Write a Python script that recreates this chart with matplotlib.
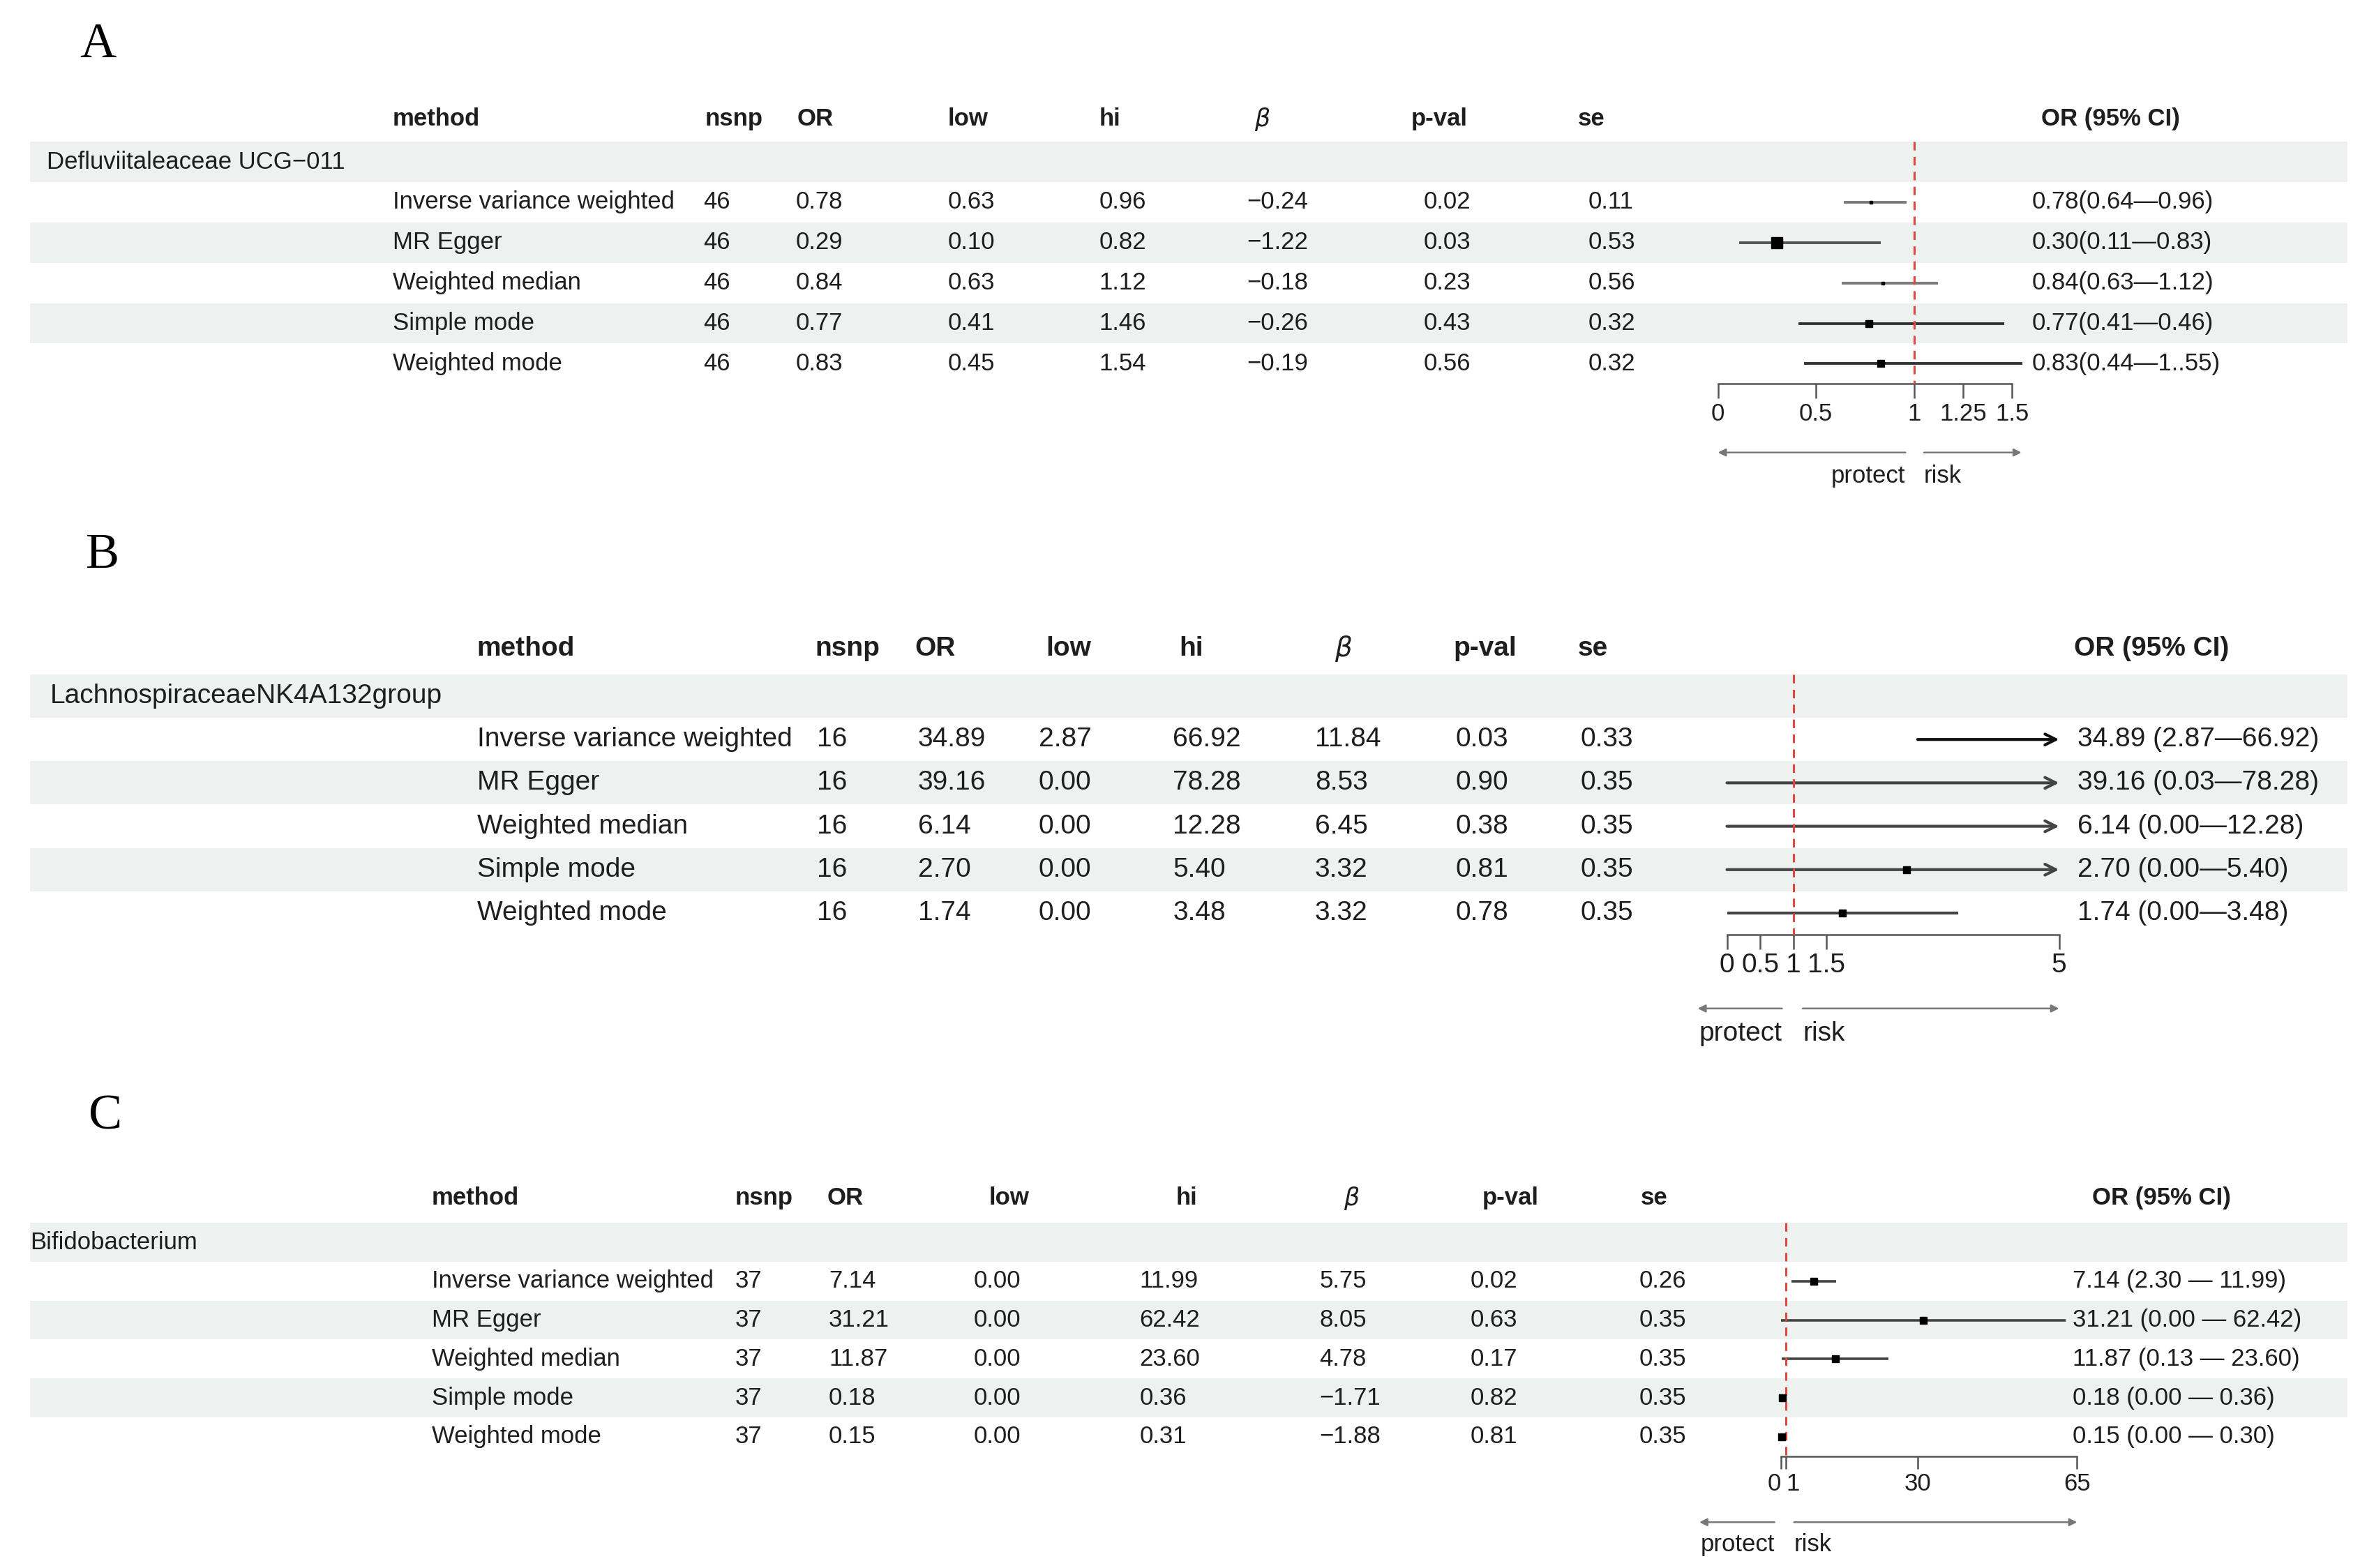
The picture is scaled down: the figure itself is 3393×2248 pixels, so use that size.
import numpy as np
import matplotlib.pyplot as plt

plt.rcParams['font.family'] = ['Liberation Sans', 'DejaVu Sans']

# ---------------- data ----------------
methods = ['Inverse variance weighted', 'MR Egger', 'Weighted median',
           'Simple mode', 'Weighted mode']
columns = ['method', 'nsnp', 'OR', 'low', 'hi', r'$\beta$', 'p-val', 'se']

# panel A
group_a = 'Defluviitaleaceae UCG\u2212011'
nsnp_a = [46, 46, 46, 46, 46]
or_a = [0.78, 0.29, 0.84, 0.77, 0.83]
low_a = [0.63, 0.10, 0.63, 0.41, 0.45]
hi_a = [0.96, 0.82, 1.12, 1.46, 1.54]
beta_a = [-0.24, -1.22, -0.18, -0.26, -0.19]
pval_a = [0.02, 0.03, 0.23, 0.43, 0.56]
se_a = [0.11, 0.53, 0.56, 0.32, 0.32]
ci_text_a = ['0.78(0.64\u20140.96)', '0.30(0.11\u20140.83)', '0.84(0.63\u20141.12)',
             '0.77(0.41\u20140.46)', '0.83(0.44\u20141..55)']
est_a = [0.78, 0.30, 0.84, 0.77, 0.83]
ci_lo_a = [0.64, 0.11, 0.63, 0.41, 0.44]
ci_hi_a = [0.96, 0.83, 1.12, 1.46, 1.55]
ticks_a = [0, 0.5, 1, 1.25, 1.5]
tick_labels_a = ['0', '0.5', '1', '1.25', '1.5']

# panel B
group_b = 'LachnospiraceaeNK4A132group'
nsnp_b = [16, 16, 16, 16, 16]
or_b = [34.89, 39.16, 6.14, 2.70, 1.74]
low_b = [2.87, 0.00, 0.00, 0.00, 0.00]
hi_b = [66.92, 78.28, 12.28, 5.40, 3.48]
beta_b = [11.84, 8.53, 6.45, 3.32, 3.32]
pval_b = [0.03, 0.90, 0.38, 0.81, 0.78]
se_b = [0.33, 0.35, 0.35, 0.35, 0.35]
ci_text_b = ['34.89 (2.87\u201466.92)', '39.16 (0.03\u201478.28)', '6.14 (0.00\u201412.28)',
             '2.70 (0.00\u20145.40)', '1.74 (0.00\u20143.48)']
est_b = [34.89, 39.16, 6.14, 2.70, 1.74]
ci_lo_b = [2.87, 0.00, 0.00, 0.00, 0.00]
ci_hi_b = [66.92, 78.28, 12.28, 5.40, 3.48]
ticks_b = [0, 0.5, 1, 1.5, 5]
tick_labels_b = ['0', '0.5', '1', '1.5', '5']

# panel C
group_c = 'Bifidobacterium'
nsnp_c = [37, 37, 37, 37, 37]
or_c = [7.14, 31.21, 11.87, 0.18, 0.15]
low_c = [0.00, 0.00, 0.00, 0.00, 0.00]
hi_c = [11.99, 62.42, 23.60, 0.36, 0.31]
beta_c = [5.75, 8.05, 4.78, -1.71, -1.88]
pval_c = [0.02, 0.63, 0.17, 0.82, 0.81]
se_c = [0.26, 0.35, 0.35, 0.35, 0.35]
ci_text_c = ['7.14 (2.30 \u2014 11.99)', '31.21 (0.00 \u2014 62.42)', '11.87 (0.13 \u2014 23.60)',
             '0.18 (0.00 \u2014 0.36)', '0.15 (0.00 \u2014 0.30)']
est_c = [7.14, 31.21, 11.87, 0.18, 0.15]
ci_lo_c = [2.30, 0.00, 0.13, 0.00, 0.00]
ci_hi_c = [11.99, 62.42, 23.60, 0.36, 0.30]
ticks_c = [0, 1, 30, 65]
tick_labels_c = ['0', '1', '30', '65']

# ---------------- layout (reference units, 1568 x 1039) ----------------
W, H = 1568.0, 1039.0
BAND = '#edf1f0'
RED = '#e0473f'
TXT = '#1e1e1e'

layout_a = dict(letter='A', letter_xy=(65, 30), span=(60, 330), row0=134, dy=26.75,
                head_r=-2.06, fs=25, group_x=31,
                head_x=[260, 467, 528, 628, 728, 831, 935, 1045], ci_head_x=1352,
                val_x=[260, 466, 527, 628, 728, 826, 943, 1052], ci_x=1346,
                px0=1138, ppu=130.0, clip=1.6, ms=[3.5, 11, 3.5, 7, 7],
                lc=['#7a7a7a', '#555555', '#7a7a7a', '#333333', '#333333'], lw=2.8,
                arrows=(0.956, 0.0, 1.05, 1.547), tick_ha=None, tick_len=15)
layout_b = dict(letter='B', letter_xy=(68, 368), span=(410, 700), row0=490, dy=28.75,
                head_r=-2.09, fs=28, group_x=33,
                head_x=[316, 540, 606, 693, 781, 884, 963, 1045], ci_head_x=1374,
                val_x=[316, 541, 608, 688, 777, 871, 964, 1047], ci_x=1376,
                px0=1144, ppu=44.0, clip=5.0, ms=[7, 7, 7, 7, 7],
                lc=['#111111', '#444444', '#444444', '#444444', '#444444'], lw=3.0,
                arrows=(0.83, -0.44, 1.14, 5.0), tick_ha=None, tick_len=15)
layout_c = dict(letter='C', letter_xy=(70, 740), span=(775, 1035), row0=849, dy=25.75,
                head_r=-2.14, fs=25, group_x=20,
                head_x=[286, 487, 548, 655, 779, 890, 982, 1087], ci_head_x=1386,
                val_x=[286, 487, 549, 645, 755, 874, 974, 1086], ci_x=1373,
                px0=1180, ppu=3.015, clip=65.0, ms=[6.5, 6.5, 6.5, 6.5, 6.5],
                lc=['#444444'] * 5, lw=2.6,
                arrows=(-1.5, -18.0, 2.8, 65.0), tick_ha=['right', 'left', 'center', 'center'],
                tick_len=13)


def fmt(v):
    return f'{v:.2f}'.replace('-', '\u2212')


def draw_panel(fig, p, group, cols, ci_text, est, lo, hi, ticks, tick_labels):
    top, bot = p['span']
    rect = [0, 1 - bot / H, 1, (bot - top) / H]
    r_bot = (bot - p['row0']) / p['dy']
    r_top = (top - p['row0']) / p['dy']
    fs = p['fs']

    fig.text(p['letter_xy'][0] / W, 1 - p['letter_xy'][1] / H, p['letter'],
             family='Liberation Serif', fontsize=52, ha='center', va='center')

    # table part
    ax = fig.add_axes(rect)
    ax.set_xlim(0, W)
    ax.set_ylim(r_bot, r_top)
    ax.axis('off')
    ax.barh([-1, 1, 3], width=1535, left=20, height=1.0, color=BAND, zorder=0)

    for x, name in zip(p['head_x'], columns):
        ax.text(x, p['head_r'], name, fontsize=fs, weight='bold', va='center', color=TXT)
    ax.text(p['ci_head_x'], p['head_r'], 'OR (95% CI)', fontsize=fs, weight='bold',
            va='center', color=TXT)
    ax.text(p['group_x'], -1, group, fontsize=fs, va='center', color=TXT)

    for x, vals in zip(p['val_x'], cols):
        for r, v in enumerate(vals):
            ax.text(x, r, v, fontsize=fs, va='center', color=TXT)
    for r, s in enumerate(ci_text):
        ax.text(p['ci_x'], r, s, fontsize=fs, va='center', color=TXT)

    # forest part
    fx = fig.add_axes(rect)
    fx.set_facecolor('none')
    fx.set_xlim(-p['px0'] / p['ppu'], (W - p['px0']) / p['ppu'])
    fx.set_ylim(r_bot, r_top)
    xmin, xmax = ticks[0], ticks[-1]
    clip = p['clip']

    for r in range(len(est)):
        c = p['lc'][r]
        if hi[r] > clip:
            fx.annotate('', xy=(clip, r), xytext=(lo[r], r),
                        arrowprops=dict(arrowstyle='->', color=c, lw=p['lw'],
                                        mutation_scale=28, shrinkA=0, shrinkB=0))
        else:
            fx.hlines(r, lo[r], hi[r], colors=c, lw=p['lw'])
        if xmin <= est[r] <= xmax:
            fx.plot(est[r], r, 's', color='black', ms=p['ms'][r], zorder=4)

    fx.vlines(1, -1.5, 4.5, colors=RED, linestyles=(0, (4, 3)), lw=2.2, zorder=3)

    for side in ['top', 'left', 'right']:
        fx.spines[side].set_visible(False)
    fx.spines['bottom'].set_position(('data', 4.5))
    fx.spines['bottom'].set_bounds(xmin, xmax)
    fx.spines['bottom'].set_color('#555555')
    fx.spines['bottom'].set_linewidth(1.8)
    fx.set_yticks([])
    fx.set_xticks(ticks, tick_labels)
    fx.tick_params(axis='x', direction='out', length=p['tick_len'], width=1.8,
                   color='#555555', labelsize=fs, pad=4, labelcolor=TXT)
    if p['tick_ha']:
        for lbl, ha in zip(fx.get_xticklabels(), p['tick_ha']):
            lbl.set_ha(ha)

    l0, l1, r0, r1 = p['arrows']
    for a, b in [(l0, l1), (r0, r1)]:
        fx.annotate('', xy=(b, 6.2), xytext=(a, 6.2),
                    arrowprops=dict(arrowstyle='-|>', color='#777777', lw=1.8,
                                    mutation_scale=16, shrinkA=0, shrinkB=0))
    fx.text(l0, 6.78, 'protect', fontsize=fs, ha='right', va='center', color=TXT)
    fx.text(r0, 6.78, 'risk', fontsize=fs, ha='left', va='center', color=TXT)


def table_cols(nsnp, orv, low, hi, beta, pval, se):
    return [methods, [str(n) for n in nsnp], [fmt(v) for v in orv], [fmt(v) for v in low],
            [fmt(v) for v in hi], [fmt(v) for v in beta], [fmt(v) for v in pval],
            [fmt(v) for v in se]]


fig = plt.figure(figsize=(33.93, 22.48), dpi=100)
fig.patch.set_facecolor('white')

draw_panel(fig, layout_a, group_a, table_cols(nsnp_a, or_a, low_a, hi_a, beta_a, pval_a, se_a),
           ci_text_a, est_a, ci_lo_a, ci_hi_a, ticks_a, tick_labels_a)
draw_panel(fig, layout_b, group_b, table_cols(nsnp_b, or_b, low_b, hi_b, beta_b, pval_b, se_b),
           ci_text_b, est_b, ci_lo_b, ci_hi_b, ticks_b, tick_labels_b)
draw_panel(fig, layout_c, group_c, table_cols(nsnp_c, or_c, low_c, hi_c, beta_c, pval_c, se_c),
           ci_text_c, est_c, ci_lo_c, ci_hi_c, ticks_c, tick_labels_c)

fig.savefig('out.png', dpi=100)
